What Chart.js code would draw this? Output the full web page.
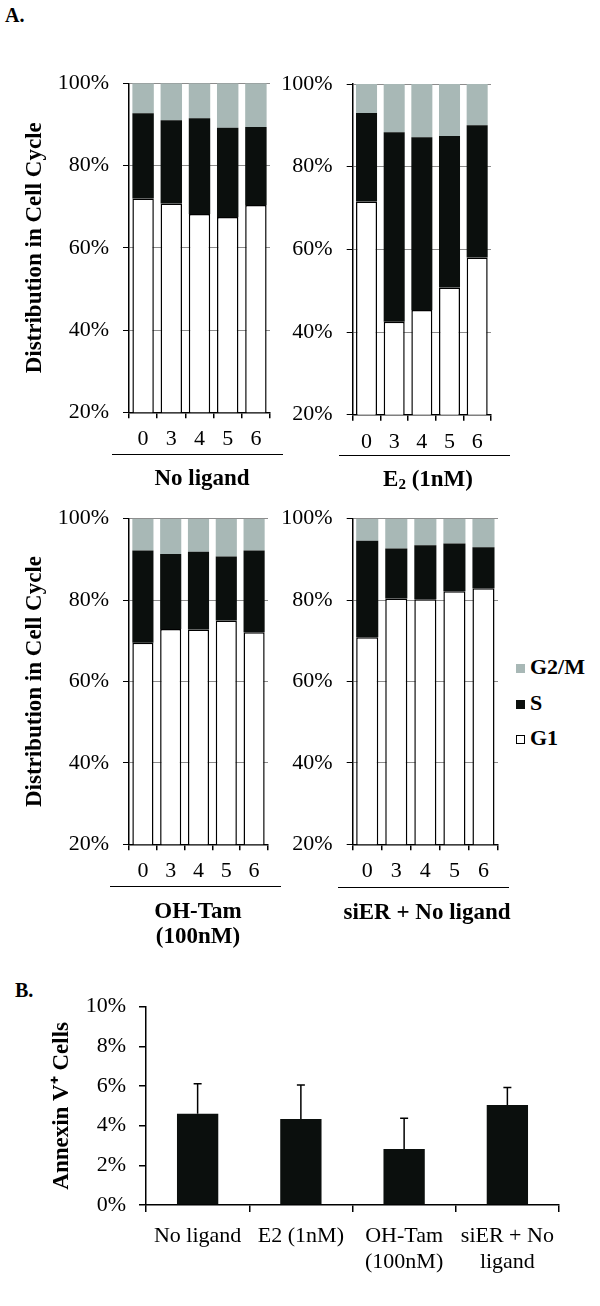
<!DOCTYPE html>
<html>
<head>
<meta charset="utf-8">
<title>Cell cycle distribution and Annexin V</title>
<script src="https://cdn.jsdelivr.net/npm/chart.js"></script>
<style>
  body { margin: 0; background: #fff; }
  #page { position: relative; width: 600px; height: 1306px; font-family: "Liberation Serif", "Times New Roman", serif; color: #000; }
  canvas { position: absolute; }
  .lbl { position: absolute; width: 220px; font-weight: bold; font-size: 23px; line-height: 25px; text-align: center; white-space: nowrap; }
  .rule { position: absolute; height: 0; border-top: 1.5px solid #000; }
  .letter { position: absolute; font-weight: bold; font-size: 20px; line-height: 20px; }
  .leg { position: absolute; left: 516px; font-weight: bold; font-size: 22px; line-height: 24px; }
  .leg i { display: inline-block; width: 9px; height: 9px; box-sizing: border-box; margin-right: 5px; vertical-align: 1px; }
  sub { font-size: 15px; vertical-align: -3px; }
</style>
</head>
<body>
<div id="page">
  <div class="letter" style="left:5px; top:5px;">A.</div>
  <div class="letter" style="left:15px; top:980px;">B.</div>

  <canvas id="noLigand"></canvas>
  <canvas id="e2"></canvas>
  <canvas id="ohTam"></canvas>
  <canvas id="siER"></canvas>
  <canvas id="annexin"></canvas>

  <div class="rule" style="left:112px; top:454px; width:171px;"></div>
  <div class="lbl" style="left:92px; top:465px;">No ligand</div>
  <div class="rule" style="left:339px; top:455px; width:171px;"></div>
  <div class="lbl" style="left:318px; top:466px;">E<sub>2</sub> (1nM)</div>
  <div class="rule" style="left:110px; top:886px; width:171px;"></div>
  <div class="lbl" style="left:88px; top:898px;">OH-Tam<br>(100nM)</div>
  <div class="rule" style="left:338px; top:887px; width:171px;"></div>
  <div class="lbl" style="left:317px; top:899px;">siER + No ligand</div>

  <div class="leg" style="top:655px;"><i style="background:#a8b8b6;"></i>G2/M</div>
  <div class="leg" style="top:691px;"><i style="background:#0b0f0d;"></i>S</div>
  <div class="leg" style="top:726px;"><i style="background:#fff; border:1px solid #000;"></i>G1</div>
</div>

<script>
  var timepoints = ['0', '3', '4', '5', '6'];
  var cycleTicks = [20, 40, 60, 80, 100];

  var noLigandG1 = [72.0, 70.8, 68.2, 67.5, 70.4];
  var noLigandS = [20.7, 20.2, 23.3, 21.7, 19.0];
  var noLigandG2M = [7.3, 9.0, 8.5, 10.8, 10.6];

  var e2G1 = [71.6, 42.5, 45.3, 50.8, 58.0];
  var e2S = [21.4, 45.8, 41.8, 36.6, 32.0];
  var e2G2M = [7.0, 11.7, 12.9, 12.6, 10.0];

  var ohTamG1 = [69.5, 72.9, 72.8, 75.0, 72.1];
  var ohTamS = [22.7, 18.4, 19.1, 15.7, 20.1];
  var ohTamG2M = [7.8, 8.7, 8.1, 9.3, 7.8];

  var siERG1 = [70.9, 80.4, 80.2, 82.2, 82.9];
  var siERS = [23.7, 12.3, 13.3, 11.7, 10.1];
  var siERG2M = [5.4, 7.3, 6.5, 6.1, 7.0];

  var annexinGroups = [['No ligand'], ['E2 (1nM)'], ['OH-Tam', '(100nM)'], ['siER + No', 'ligand']];
  var annexinMean = [4.60, 4.34, 2.82, 5.04];
  var annexinErr = [1.52, 1.71, 1.55, 0.88];
  var annexinTicks = [0, 2, 4, 6, 8, 10];

  var serif = '"Liberation Serif", "Times New Roman", serif';

  // place canvas and work out padding so the plot area lands where we want it
  function place(id, box, area) {
    var cv = document.getElementById(id);
    cv.width = box.width;
    cv.height = box.height;
    cv.style.left = box.left + 'px';
    cv.style.top = box.top + 'px';
    return {
      canvas: cv,
      padding: { top: area.top - box.top, right: box.left + box.width - area.right, left: 0, bottom: 0 },
      yWidth: area.left - box.left,
      xHeight: box.top + box.height - area.bottom
    };
  }

  function cycleChart(id, box, area, g1, s, g2m, withTitle) {
    var L = place(id, box, area);
    return new Chart(L.canvas, {
      type: 'bar',
      data: {
        labels: timepoints,
        datasets: [
          { label: 'G1', data: g1, backgroundColor: '#ffffff', borderColor: '#000', borderWidth: 1.5, borderSkipped: 'start' },
          { label: 'S', data: s, backgroundColor: '#0b0f0d', borderWidth: 0 },
          { label: 'G2/M', data: g2m, backgroundColor: '#a8b8b6', borderWidth: 0 }
        ]
      },
      options: {
        responsive: false,
        animation: false,
        layout: { padding: L.padding },
        datasets: { bar: { categoryPercentage: 1, barPercentage: 0.76 } },
        plugins: { legend: { display: false }, tooltip: { enabled: false } },
        scales: {
          x: {
            stacked: true,
            grid: { offset: true, drawOnChartArea: false, color: '#000', lineWidth: 1.5, tickLength: 6 },
            border: { color: '#000', width: 1.5 },
            ticks: { color: '#000', padding: 8, font: { family: serif, size: 22 } },
            afterFit: function (sc) { sc.height = L.xHeight; }
          },
          y: {
            stacked: true,
            min: 20,
            max: 100,
            afterBuildTicks: function (sc) { sc.ticks = cycleTicks.map(function (v) { return { value: v }; }); },
            grid: { color: '#8c8c8c', lineWidth: 1, tickColor: '#000', tickLength: 6 },
            border: { color: '#000', width: 1.5 },
            ticks: { color: '#000', padding: 14, font: { family: serif, size: 22 }, callback: function (v) { return v + '%'; } },
            title: {
              display: withTitle,
              text: 'Distribution in Cell Cycle',
              color: '#000',
              padding: { top: 21, bottom: 0 },
              font: { family: serif, size: 23, weight: 'bold' }
            },
            afterFit: function (sc) { sc.width = L.yWidth; }
          }
        }
      }
    });
  }

  cycleChart('noLigand', { left: 0, top: 40, width: 280, height: 440 }, { left: 129, top: 83.3, right: 270, bottom: 412.3 },
    noLigandG1, noLigandS, noLigandG2M, true);
  cycleChart('e2', { left: 275, top: 40, width: 240, height: 440 }, { left: 352.7, top: 84, right: 491, bottom: 414.7 },
    e2G1, e2S, e2G2M, false);
  cycleChart('ohTam', { left: 0, top: 470, width: 280, height: 420 }, { left: 129, top: 518.7, right: 268, bottom: 844.3 },
    ohTamG1, ohTamS, ohTamG2M, true);
  cycleChart('siER', { left: 275, top: 470, width: 240, height: 420 }, { left: 352.7, top: 518.7, right: 498, bottom: 844.3 },
    siERG1, siERS, siERG2M, false);

  // upper error bars for panel B
  var errorBars = {
    id: 'errorBars',
    afterDatasetsDraw: function (chart) {
      var meta = chart.getDatasetMeta(0);
      var y = chart.scales.y;
      var ctx = chart.ctx;
      ctx.save();
      ctx.strokeStyle = '#000';
      ctx.lineWidth = 1.5;
      meta.data.forEach(function (bar, i) {
        var top = y.getPixelForValue(annexinMean[i] + annexinErr[i]);
        ctx.beginPath();
        ctx.moveTo(bar.x, bar.y);
        ctx.lineTo(bar.x, top);
        ctx.moveTo(bar.x - 4, top);
        ctx.lineTo(bar.x + 4, top);
        ctx.stroke();
      });
      ctx.restore();
    }
  };

  var B = place('annexin', { left: 0, top: 970, width: 600, height: 320 }, { left: 146, top: 1006.7, right: 559, bottom: 1205 });
  new Chart(B.canvas, {
    type: 'bar',
    data: {
      labels: annexinGroups,
      datasets: [{ label: 'Annexin V+', data: annexinMean, backgroundColor: '#0b0f0d', borderWidth: 0 }]
    },
    options: {
      responsive: false,
      animation: false,
      layout: { padding: B.padding },
      datasets: { bar: { categoryPercentage: 1, barPercentage: 0.40 } },
      plugins: { legend: { display: false }, tooltip: { enabled: false } },
      scales: {
        x: {
          grid: { offset: true, drawOnChartArea: false, color: '#000', lineWidth: 1.5, tickLength: 7 },
          border: { color: '#000', width: 1.5 },
          ticks: { color: '#000', padding: 12, font: { family: serif, size: 22, lineHeight: 1.15 } },
          afterFit: function (sc) { sc.height = B.xHeight; }
        },
        y: {
          min: 0,
          max: 10,
          afterBuildTicks: function (sc) { sc.ticks = annexinTicks.map(function (v) { return { value: v }; }); },
          grid: { drawOnChartArea: false, color: '#000', lineWidth: 1.5, tickLength: 7 },
          border: { color: '#000', width: 1.5 },
          ticks: { color: '#000', padding: 13, font: { family: serif, size: 22 }, callback: function (v) { return v + '%'; } },
          title: {
            display: true,
            text: 'Annexin V\u207A Cells',
            color: '#000',
            padding: { top: 48, bottom: 0 },
            font: { family: serif, size: 23, weight: 'bold' }
          },
          afterFit: function (sc) { sc.width = B.yWidth; }
        }
      }
    },
    plugins: [errorBars]
  });
</script>
</body>
</html>
